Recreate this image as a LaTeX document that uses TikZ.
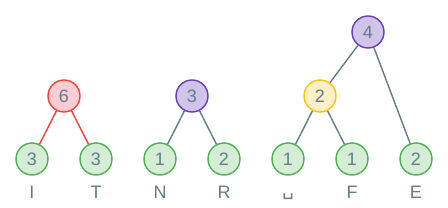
\documentclass[tikz,border=0pt]{standalone}
\usepackage{fontspec}
\setmainfont{Liberation Sans}
\newfontfamily\symfont{DejaVu Sans}
\usetikzlibrary{positioning}
\definecolor{leafLine}{HTML}{4CAF50}
\definecolor{leafFill}{HTML}{D4EDD4}
\definecolor{redLine}{HTML}{F44336}
\definecolor{redFill}{HTML}{FFCDD2}
\definecolor{violetLine}{HTML}{673AB7}
\definecolor{violetFill}{HTML}{D1C4E9}
\definecolor{amberLine}{HTML}{FFC107}
\definecolor{amberFill}{HTML}{FFF0C8}
\definecolor{slate}{HTML}{607D8B}
\tikzset{
  knot/.style={circle, minimum size=32pt, inner sep=0pt, line width=1.4pt,
               text=slate, font=\fontsize{18}{18}\selectfont},
  leaf/.style={knot, draw=leafLine, fill=leafFill},
  redknot/.style={knot, draw=redLine, fill=redFill},
  violetknot/.style={knot, draw=violetLine, fill=violetFill},
  amberknot/.style={knot, draw=amberLine, fill=amberFill},
  glyph/.style={text=slate, font=\fontsize{18}{18}\selectfont, inner sep=0pt,
                text height=13pt, text depth=0pt, below=10pt of #1},
  edgeS/.style={slate, line width=1.4pt},
  edgeR/.style={redLine, line width=1.4pt},
}
\begin{document}
\begin{tikzpicture}[x=1pt, y=1pt]
  \useasboundingbox (0,0) rectangle (448,208);
  % leaves
  \node[leaf] (lI) at (32,49)  {3};
  \node[leaf] (lT) at (96,49)  {3};
  \node[leaf] (lN) at (160,49) {1};
  \node[leaf] (lR) at (224,49) {2};
  \node[leaf] (lS) at (288,49) {1};
  \node[leaf] (lF) at (352,49) {1};
  \node[leaf] (lE) at (416,49) {2};
  \node[glyph=lI] {I};
  \node[glyph=lT] {T};
  \node[glyph=lN] {N};
  \node[glyph=lR] {R};
  \node[glyph=lS] {\raisebox{3pt}{\symfont ␣}};
  \node[glyph=lF] {F};
  \node[glyph=lE] {E};
  % inner nodes
  \node[redknot]    (six)   at (64,112)  {6};
  \node[violetknot] (three) at (192,112) {3};
  \node[amberknot]  (two)   at (320,112) {2};
  \node[violetknot] (four)  at (368,176) {4};
  % edges
  \draw[edgeR] (six) -- (lI);
  \draw[edgeR] (six) -- (lT);
  \draw[edgeS] (three) -- (lN);
  \draw[edgeS] (three) -- (lR);
  \draw[edgeS] (two) -- (lS);
  \draw[edgeS] (two) -- (lF);
  \draw[edgeS] (four) -- (two);
  \draw[edgeS] (four) -- (lE);
\end{tikzpicture}
\end{document}
